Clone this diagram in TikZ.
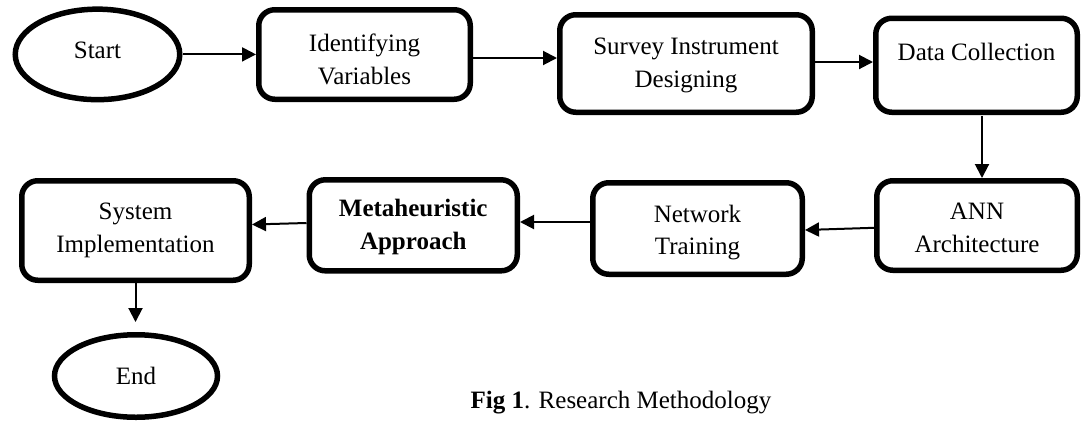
\documentclass[tikz,border=0pt]{standalone}
\usepackage{fontspec}
\setmainfont{Liberation Serif}
\usetikzlibrary{shapes.geometric,arrows.meta}

\tikzset{
  stepbox/.style={draw=black, line width=5.5pt, rounded corners=16pt,
    fill=white, inner sep=0pt},
  terminal/.style={draw=black, ellipse, line width=5.5pt, fill=white,
    inner sep=0pt},
  boxtext/.style={align=center, inner sep=0pt,
    font=\fontsize{25}{32.7}\selectfont},
  conn/.style={line width=2pt, -{Triangle[length=14pt,width=14pt]}},
  caption/.style={font=\fontsize{25}{32.7}\selectfont, inner sep=0pt}
}

\begin{document}
\begin{tikzpicture}[x=1pt, y=-1pt]
  \fill[white] (0,0) rectangle (1081,424);
  \useasboundingbox (0,0) rectangle (1081,424);

  % top row
  \node[terminal, minimum width=164.5pt, minimum height=90.5pt,
    label={[boxtext, yshift=4pt]center:Start}] (start) at (97.5,54.4) {};
  \node[stepbox, minimum width=211.5pt, minimum height=89.5pt,
    label={[boxtext, yshift=-5pt]center:{Identifying\\Variables}}] (iv) at (364.5,54.5) {};
  \node[stepbox, minimum width=252.5pt, minimum height=97.5pt,
    label={[boxtext, yshift=-2pt]center:{Survey Instrument\\Designing}}] (sid) at (686,63.5) {};
  \node[stepbox, minimum width=201.5pt, minimum height=94pt,
    label={[boxtext, yshift=13.5pt]center:{Data Collection}}] (dc) at (976.5,65.25) {};

  % bottom row
  \node[stepbox, minimum width=200.5pt, minimum height=89.5pt,
    label={[boxtext, yshift=-2.7pt]center:{ANN\\Architecture}}] (ann) at (977,225.5) {};
  \node[stepbox, minimum width=209.5pt, minimum height=91.5pt,
    label={[boxtext, yshift=-4pt]center:{Network\\Training}}] (nt) at (697.5,228.5) {};
  \node[stepbox, minimum width=208pt, minimum height=91pt,
    label={[boxtext, yshift=-2pt, font=\fontsize{25}{32.7}\selectfont\bfseries]center:{Metaheuristic\\Approach}}] (meta) at (413.25,225.3) {};
  \node[stepbox, minimum width=227.5pt, minimum height=99.5pt,
    label={[boxtext]center:{System\\Implementation}}] (si) at (135.5,230.5) {};
  \node[terminal, minimum width=163pt, minimum height=82.5pt,
    label={[boxtext]center:End}] (end) at (136,376) {};

  % connectors
  \draw[conn] (start.east) -- (start.east -| iv.west);
  \draw[conn] ([yshift=-3.5pt]iv.east) coordinate (ivout) -- (ivout -| sid.west);
  \draw[conn] ([yshift=1.5pt]sid.east) coordinate (sidout) -- (sidout -| dc.west);
  \draw[conn, shorten <=1pt] ([xshift=5.5pt]dc.south) coordinate (dcout) -- (dcout |- ann.north);
  \draw[conn] ([yshift=-2.3pt]ann.west) -- ([yshift=-1.5pt]nt.east);
  \draw[conn] ([yshift=6.5pt]nt.west) coordinate (ntout) -- (ntout -| meta.east);
  \draw[conn] ([yshift=2.3pt]meta.west) -- ([yshift=6pt]si.east);
  \draw[conn, shorten >=10pt] (si.south) -- (si.south |- end.north);

  % caption
  \node[caption, anchor=base] (cap) at (621,408) {\textbf{Fig 1}. Research Methodology};
\end{tikzpicture}
\end{document}
